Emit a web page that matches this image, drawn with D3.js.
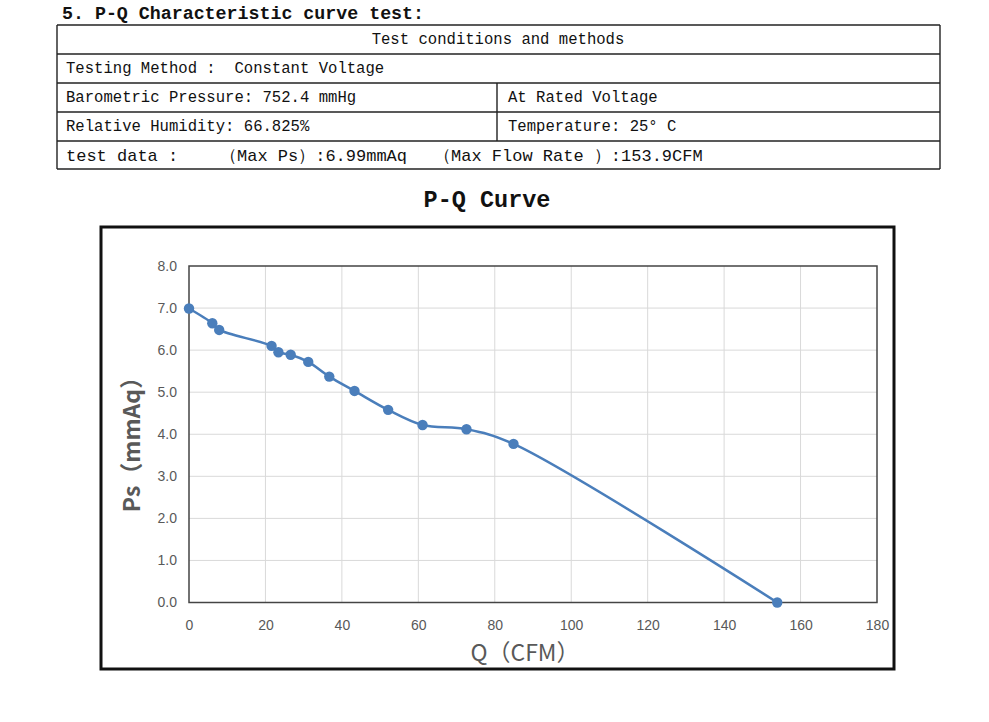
<!DOCTYPE html>
<html>
<head>
<meta charset="utf-8">
<script src="https://cdn.jsdelivr.net/npm/d3@7"></script>
<style>
  body { margin: 0; background: #fff; }
  svg { display: block; }
  svg text { white-space: pre; }
</style>
</head>
<body>
<svg id="chart" width="989" height="722"></svg>
<script>
// P-Q curve data
var flowQ = [0, 6.1, 7.9, 21.6, 23.4, 26.6, 31.2, 36.7, 43.3, 52.1, 61.1, 72.6, 84.9, 153.9]
var pressurePs = [6.99, 6.64, 6.48, 6.10, 5.95, 5.89, 5.72, 5.37, 5.03, 4.58, 4.22, 4.12, 3.77, 0]
var xTicks = [0, 20, 40, 60, 80, 100, 120, 140, 160, 180]
var yTicks = [0, 1, 2, 3, 4, 5, 6, 7, 8]

var tableRows = [
  ["Test conditions and methods"],
  ["Testing Method :  Constant Voltage"],
  ["Barometric Pressure: 752.4 mmHg", "At Rated Voltage"],
  ["Relative Humidity: 66.825%", "Temperature: 25° C"],
  ["test data :", "（Max Ps）:6.99mmAq", "（Max Flow Rate ）:153.9CFM"]
]

var svg = d3.select("#chart")
var mono = "'Liberation Mono', 'DejaVu Sans Mono', monospace"
var sans = "'Liberation Sans Narrow', 'Liberation Sans', Arial, sans-serif"
var cjk = "'Noto Sans CJK SC', 'Noto Sans', sans-serif"

// heading
svg.append("text")
  .attr("x", 62).attr("y", 19)
  .style("font-family", mono).style("font-weight", "bold").style("font-size", "18.3px")
  .attr("fill", "#111")
  .text("5. P-Q Characteristic curve test:")

// table of test conditions
var tLeft = 57, tRight = 940, tMid = 497
var rowLines = [25, 54, 83, 112, 141, 169]
var table = svg.append("g").attr("stroke", "#222").attr("stroke-width", 1.4)

rowLines.forEach(y => {
  table.append("line").attr("x1", tLeft).attr("x2", tRight).attr("y1", y).attr("y2", y)
})
table.append("line").attr("x1", tLeft).attr("x2", tLeft).attr("y1", 25).attr("y2", 169)
table.append("line").attr("x1", tRight).attr("x2", tRight).attr("y1", 25).attr("y2", 169)
table.append("line").attr("x1", tMid).attr("x2", tMid).attr("y1", 83).attr("y2", 141)

var cellText = function (x, y, str, anchor, size) {
  svg.append("text")
    .attr("x", x).attr("y", y)
    .attr("text-anchor", anchor || "start")
    .attr("dominant-baseline", "central")
    .style("font-family", mono).style("font-size", (size || 15.6) + "px")
    .attr("fill", "#111")
    .text(str)
}

cellText(498, 40, tableRows[0][0], "middle")
cellText(66, 69, tableRows[1][0])
cellText(66, 98, tableRows[2][0])
cellText(508, 98, tableRows[2][1])
cellText(66, 127, tableRows[3][0])
cellText(508, 127, tableRows[3][1])
cellText(66, 156, tableRows[4][0], "start", 17)
cellText(220, 156, tableRows[4][1], "start", 17)
cellText(434, 156, tableRows[4][2], "start", 17)

// chart title
svg.append("text")
  .attr("x", 487).attr("y", 200)
  .attr("text-anchor", "middle").attr("dominant-baseline", "central")
  .style("font-family", mono).style("font-weight", "bold").style("font-size", "23.5px")
  .attr("fill", "#111")
  .text("P-Q Curve")

// chart frame
svg.append("rect")
  .attr("x", 101).attr("y", 227).attr("width", 793).attr("height", 442)
  .attr("fill", "#fff").attr("stroke", "#111").attr("stroke-width", 3)

var x = d3.scaleLinear().domain([0, 180]).range([189, 877])
var y = d3.scaleLinear().domain([0, 8]).range([602.5, 266])

// gridlines
var grid = svg.append("g").attr("stroke", "#d9d9d9").attr("stroke-width", 1)
grid.selectAll(".gx").data(xTicks.slice(1, -1)).enter().append("line")
  .attr("x1", d => x(d)).attr("x2", d => x(d))
  .attr("y1", y(8)).attr("y2", y(0))
grid.selectAll(".gy").data(yTicks.slice(1, -1)).enter().append("line")
  .attr("x1", x(0)).attr("x2", x(180))
  .attr("y1", d => y(d)).attr("y2", d => y(d))

// plot border
svg.append("rect")
  .attr("x", x(0)).attr("y", y(8))
  .attr("width", x(180) - x(0)).attr("height", y(0) - y(8))
  .attr("fill", "none").attr("stroke", "#444").attr("stroke-width", 1.5)

// axes (labels only, the frame is drawn above)
var xAxis = svg.append("g")
  .attr("transform", "translate(0," + (y(0) + 15) + ")")
  .call(d3.axisBottom(x).tickValues(xTicks).tickSize(0).tickFormat(d3.format("d")))
var yAxis = svg.append("g")
  .attr("transform", "translate(" + (x(0) - 9) + ",0)")
  .call(d3.axisLeft(y).tickValues(yTicks).tickSize(0).tickFormat(d3.format(".1f")))

;[xAxis, yAxis].forEach(a => {
  a.select(".domain").remove()
  a.selectAll("text")
    .style("font-family", sans).style("font-size", "14px")
    .attr("fill", "#595959")
})

// axis titles
svg.append("text")
  .attr("x", 525).attr("y", 651)
  .attr("text-anchor", "middle").attr("dominant-baseline", "central")
  .style("font-family", cjk).style("font-size", "23px")
  .attr("fill", "#595959")
  .text("Q（CFM）")

svg.append("text")
  .attr("transform", "translate(130,439) rotate(-90)")
  .attr("text-anchor", "middle").attr("dominant-baseline", "central")
  .style("font-family", cjk).style("font-size", "23px")
  .style("font-weight", "bold")
  .attr("fill", "#595959")
  .text("Ps（mmAq）")

// curve and markers
var points = flowQ.map((q, i) => ({ q: q, ps: pressurePs[i] }))
var blue = "#4a7ebb"

svg.append("path")
  .datum(points)
  .attr("fill", "none").attr("stroke", blue).attr("stroke-width", 2.5)
  .attr("d", d3.line().x(d => x(d.q)).y(d => y(d.ps)).curve(d3.curveCatmullRom.alpha(0.5)))

svg.selectAll(".pt").data(points).enter().append("circle")
  .attr("cx", d => x(d.q)).attr("cy", d => y(d.ps))
  .attr("r", 5.2).attr("fill", blue)
</script>
</body>
</html>
